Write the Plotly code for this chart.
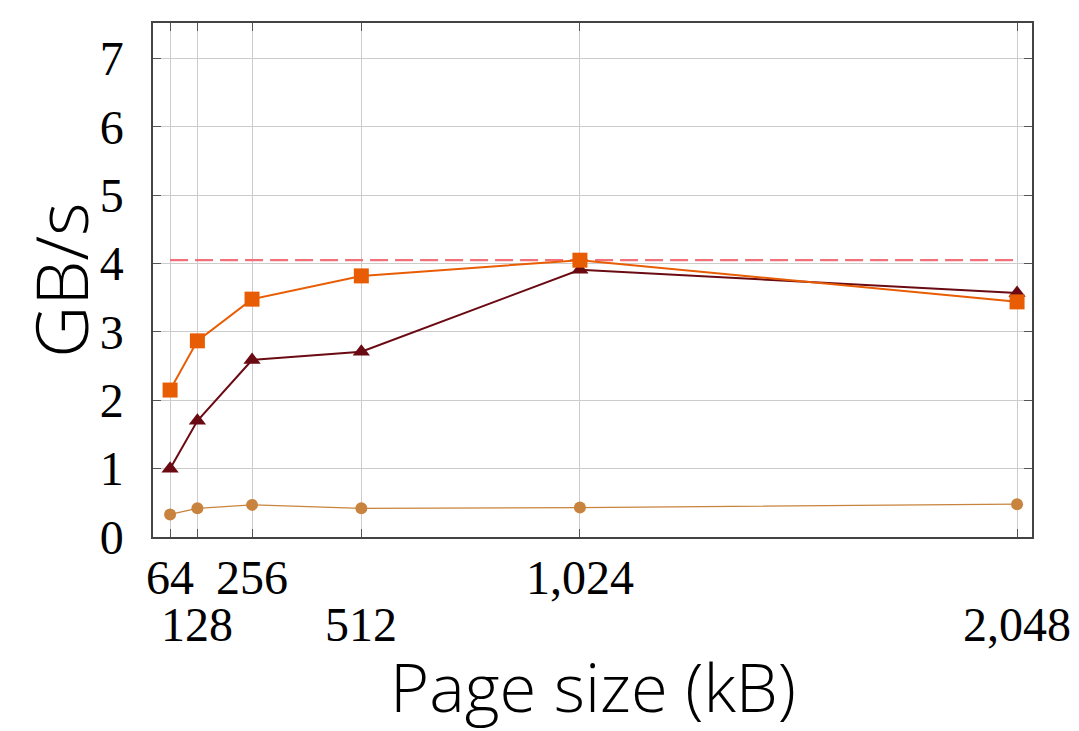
import plotly.graph_objects as go

page_sizes = [64, 128, 256, 512, 1024, 2048]
series_square = [2.15, 2.87, 3.48, 3.82, 4.05, 3.44]
series_triangle = [1.00, 1.70, 2.59, 2.71, 3.91, 3.57]
series_circle = [0.33, 0.42, 0.47, 0.42, 0.43, 0.48]
reference_level = 4.05

row1_ticks = {64: "64", 256: "256", 1024: "1,024"}
row2_ticks = {128: "128", 512: "512", 2048: "2,048"}

serif = "Liberation Serif"
sans = "Open Sans"
tick_size = 48

fig = go.Figure()
fig.add_trace(go.Scatter(x=[page_sizes[0], page_sizes[-1]], y=[reference_level, reference_level],
                         mode="lines", line=dict(color="#f2707a", width=2.2, dash="18px,7px"),
                         showlegend=False, hoverinfo="skip"))
fig.add_trace(go.Scatter(x=page_sizes, y=series_circle, mode="lines+markers",
                         line=dict(color="#c8843e", width=1.2),
                         marker=dict(symbol="circle", size=12, color="#c8843e"), showlegend=False))
fig.add_trace(go.Scatter(x=page_sizes, y=series_triangle, mode="lines+markers",
                         line=dict(color="#6a0a12", width=2),
                         marker=dict(symbol="triangle-up", size=15, color="#6a0a12"), showlegend=False))
fig.add_trace(go.Scatter(x=page_sizes, y=series_square, mode="lines+markers",
                         line=dict(color="#e85d04", width=2),
                         marker=dict(symbol="square", size=15, color="#e85d04"), showlegend=False))

for v, t in row2_ticks.items():
    fig.add_annotation(x=v, y=-0.171, xref="x", yref="paper", text=t, showarrow=False,
                       font=dict(family=serif, size=tick_size, color="black"), yanchor="middle")

fig.add_annotation(x=-0.106, y=0.5, xref="paper", yref="paper", text="GB/s", textangle=-90,
                   showarrow=False, xanchor="center", yanchor="middle",
                   font=dict(family=sans, size=72, color="black", weight=300))
fig.add_annotation(x=0.5, y=-0.289, xref="paper", yref="paper", text="Page size (kB)",
                   showarrow=False, xanchor="center", yanchor="middle",
                   font=dict(family=sans, size=67, color="black", weight=300))

fig.update_layout(
    width=1071, height=723,
    margin=dict(l=145, r=47, t=15, b=194, autoexpand=False),
    plot_bgcolor="white", paper_bgcolor="white",
    xaxis=dict(range=[24, 2083], tickvals=page_sizes,
               ticktext=[row1_ticks.get(v, "") for v in page_sizes],
               ticks="inside", ticklen=8, tickcolor="#555", mirror="allticks",
               showline=True, linecolor="#444", linewidth=1.5,
               showgrid=True, gridcolor="#cccccc", gridwidth=1, zeroline=False,
               automargin=False, ticklabelstandoff=-2,
               tickfont=dict(family=serif, size=tick_size, color="black")),
    yaxis=dict(range=[0, 7.52], tickvals=[0, 1, 2, 3, 4, 5, 6, 7],
               ticks="inside", ticklen=8, tickcolor="#555", mirror="allticks",
               showline=True, linecolor="#444", linewidth=1.5,
               showgrid=True, gridcolor="#cccccc", gridwidth=1, zeroline=False,
               automargin=False, ticklabelstandoff=18,
               tickfont=dict(family=serif, size=tick_size, color="black")),
)

fig.write_html("out.html")
